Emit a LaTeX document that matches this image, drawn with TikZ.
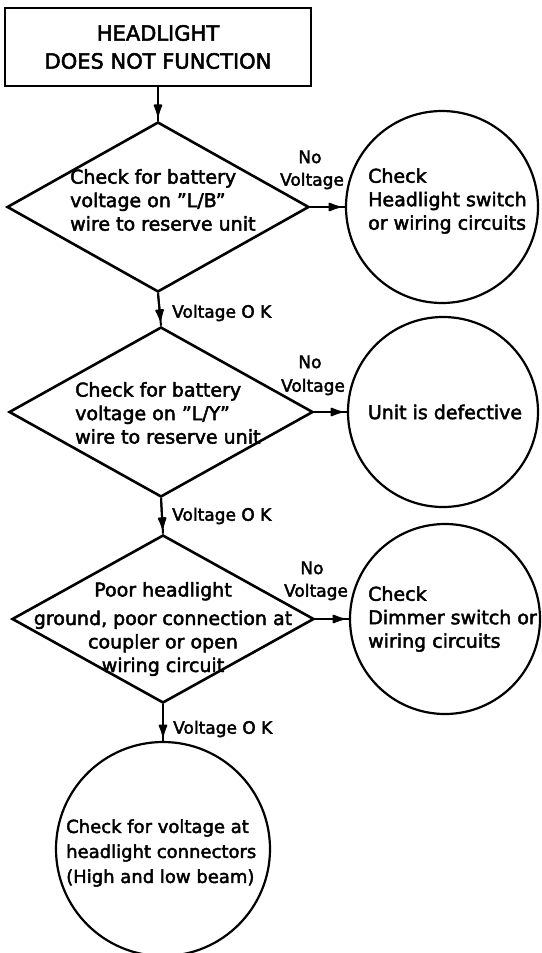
\documentclass[tikz,border=0pt]{standalone}
\usepackage{fontspec}
\setmainfont{DejaVu Sans}[FakeBold=2.4]
\usetikzlibrary{shapes.geometric,arrows.meta}
\begin{document}
\begin{tikzpicture}[x=1pt,y=-1pt,
  dia/.style={diamond,draw,line width=2.6pt,inner sep=0pt,minimum width=302pt,minimum height=170pt},
  circ/.style={circle,draw,line width=2.2pt,inner sep=0pt},
  titlebox/.style={rectangle,draw,line width=2.2pt,inner sep=0pt,minimum width=306pt,minimum height=78pt,align=center,font=\fontsize{21}{28}\selectfont},
  txt/.style={inner sep=0pt,font=\fontsize{19}{23.5}\selectfont},
  lab/.style={inner sep=0pt,font=\fontsize{17}{20}\selectfont},
  conn/.style={line width=2pt},
  tipline/.style={-{Latex[length=15pt,width=10pt,round]},shorten >=5pt,line width=2pt}]
\useasboundingbox (0,0) rectangle (541,953);

% nodes
\node[titlebox] (start) at (158,47) {HEADLIGHT\\DOES NOT FUNCTION};
\node[dia] (d1) at (158,207) {};
\node[dia,minimum width=304pt] (d2) at (161,412) {};
\node[dia,minimum height=168pt] (d3) at (163,619) {};
\node[circ,minimum size=192pt] (c1) at (442,207) {};
\node[circ,minimum size=190pt] (c2) at (443,412) {};
\node[circ,minimum size=190pt] (c3) at (445,619) {};
\node[circ,minimum size=214pt] (c4) at (163,849) {};

% texts
\node[txt,align=left,anchor=west] (t1) at (70,200) {Check for battery\\voltage on ''L/B''\\wire to reserve unit};
\node[txt,align=left,anchor=west] (t2) at (75,413) {Check for battery\\voltage on ''L/Y''\\wire to reserve unit};
\node[txt,align=center] (t3) at (163,629) {Poor headlight\\[5pt]ground, poor connection at\\coupler or open\\wiring circuit};
\node[txt,align=left,anchor=west] (tc1) at (368,201) {Check\\Headlight switch\\or wiring circuits};
\node[txt] (tc2) at (445,412) {Unit is defective};
\node[txt,align=left,anchor=west] (tc3) at (368,619) {Check\\Dimmer switch or\\wiring circuits};
\node[txt,align=left,anchor=west,font=\fontsize{18}{25}\selectfont] (tc4) at (66,853) {Check for voltage at\\headlight connectors\\(High and low beam)};

% labels
\node[lab] (no1) at (310,157) {No};
\node[lab] (nv1) at (312,181) {Voltage};
\node[lab] (no2) at (310,362) {No};
\node[lab] (nv2) at (313,387) {Voltage};
\node[lab] (no3) at (312,568) {No};
\node[lab] (nv3) at (316,592) {Voltage};
\node[lab,anchor=west] (ok1) at (172,313) {Voltage O K};
\node[lab,anchor=west] (ok2) at (172,516) {Voltage O K};
\node[lab,anchor=west] (ok3) at (173,729) {Voltage O K};

% connectors
\foreach \a/\b in {start.south/d1.north, d1.south/d2.north, d2.south/d3.north, d3.south/c4.north,
                   d1.east/c1.west, d2.east/c2.west, d3.east/c3.west}{
  \draw[conn] (\a) -- (\b);
  \draw[tipline] (\a) -- (\b);
}
\end{tikzpicture}
\end{document}
